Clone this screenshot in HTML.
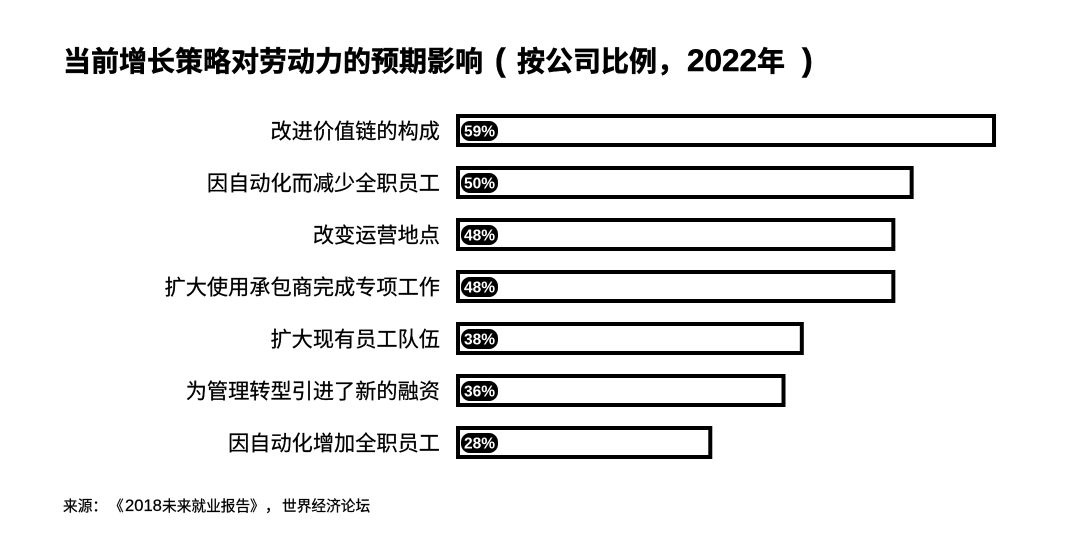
<!DOCTYPE html>
<html lang="zh-CN">
<head>
<meta charset="utf-8">
<title>当前增长策略对劳动力的预期影响</title>
<style>
  html, body { margin: 0; padding: 0; background: #fff; }
  body { width: 1080px; height: 550px; overflow: hidden; }
  svg { display: block; }
  text { font-family: "Liberation Sans", "Noto Sans CJK SC", sans-serif; fill: #000; text-spacing-trim: space-all; }
  .heavy { stroke: #000; stroke-width: 0.5px; }
  .medium { stroke: #000; stroke-width: 0.25px; }
</style>
</head>
<body>
<svg id="chart" width="1080" height="550" viewBox="0 0 1080 550" xmlns="http://www.w3.org/2000/svg">
  <rect width="1080" height="550" fill="#fff"/>
  <text class="heavy" y="71" font-size="28" font-weight="700"><tspan x="63">当前增长策略对劳动力的预期影响</tspan><tspan x="495" font-size="32">(</tspan><tspan x="517">按公司比例</tspan><tspan x="657">，</tspan><tspan x="687" font-size="31.5">2022</tspan><tspan x="757">年</tspan><tspan x="802" font-size="32">)</tspan></text>
  <g id="bars"></g>
  <text class="medium" y="511" font-size="14.7"><tspan x="63">来源</tspan><tspan x="92.4">：</tspan><tspan x="109">《</tspan><tspan x="125" font-size="16.6">2018</tspan><tspan x="162">未来就业报告</tspan><tspan x="250">》</tspan><tspan x="265">，</tspan><tspan x="282">世界经济论坛</tspan></text>
</svg>
<script>
const categories = ["改进价值链的构成", "因自动化而减少全职员工", "改变运营地点", "扩大使用承包商完成专项工作", "扩大现有员工队伍", "为管理转型引进了新的融资", "因自动化增加全职员工"];
const shareValues = [59, 50, 48, 48, 38, 36, 28];
const valueLabels = ["59%", "50%", "48%", "48%", "38%", "36%", "28%"];

const NS = 'http://www.w3.org/2000/svg';
const barsGroup = document.getElementById('bars');
const xScale = function (v) { return 456 + v * 9.153; };
const yScale = function (i) { return 114 + i * 52; };
const BAR_H = 33;
const STROKE = 4;

function make(tag, attrs) {
  const el = document.createElementNS(NS, tag);
  Object.keys(attrs).forEach(function (k) { el.setAttribute(k, attrs[k]); });
  return el;
}

categories.forEach(function (cat, i) {
  const y = yScale(i);

  const label = make('text', { x: 440, y: y + 24.5, 'font-size': 21.2, 'text-anchor': 'end', class: 'medium' });
  
  
  label.textContent = cat;
  barsGroup.appendChild(label);

  const bar = make('rect', {
    x: 456 + STROKE / 2,
    y: y + STROKE / 2,
    width: xScale(shareValues[i]) - 456 - STROKE,
    height: BAR_H - STROKE,
    fill: '#fff',
    stroke: '#000',
    'stroke-width': STROKE
  });
  
  
  barsGroup.appendChild(bar);

  const badge = make('rect', { x: 461, y: y + 7, width: 37, height: 20, rx: 9, ry: 9, fill: '#000' });
  
  
  barsGroup.appendChild(badge);

  const value = make('text', { x: 479.5, y: y + 22.5, 'font-size': 15.5, 'font-weight': 700, 'text-anchor': 'middle' });
  value.style.fill = '#fff';
  
  
  value.textContent = valueLabels[i];
  barsGroup.appendChild(value);
});
</script>
</body>
</html>
